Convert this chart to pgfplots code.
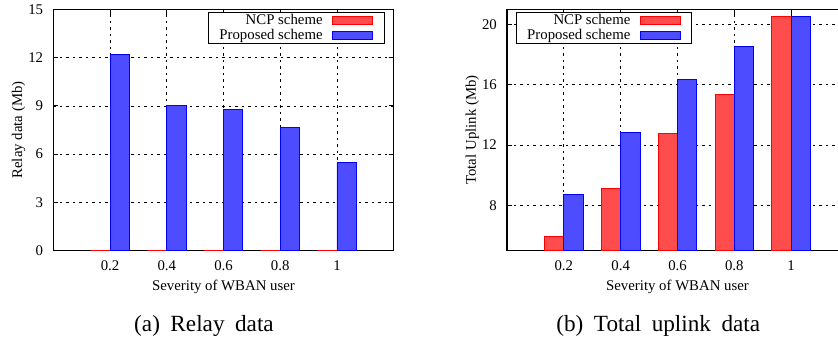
\documentclass[border=0pt]{standalone}
\usepackage{pgfplots}
\pgfplotsset{compat=1.18}
\usepackage{fontspec}
\setmainfont{Liberation Serif}
\definecolor{ncpfill}{RGB}{255,77,77}
\definecolor{ncpdraw}{RGB}{255,0,0}
\definecolor{propfill}{RGB}{77,77,255}
\definecolor{propdraw}{RGB}{0,0,255}

\pgfplotsset{
 mystyle/.style={
  scale only axis, height=241.4pt,
  xmin=0, xmax=1.2,
  xtick={0.2,0.4,0.6,0.8,1}, xticklabels={0.2,0.4,0.6,0.8,1},
  ybar, bar width=19.3pt,
  grid=major, major grid style={black, line width=0.7pt, dash pattern=on 2.5pt off 4pt},
  axis line style={black, line width=1.2pt},
  tick align=inside, major tick length=5pt, tick style={black, line width=0.8pt},
  /pgf/number format/assume math mode=true,
  every tick label/.append style={font=\fontsize{14.8}{16}\selectfont, inner sep=0pt},
  xticklabel style={anchor=base, yshift=-20pt},
  yticklabel style={anchor=east, xshift=-10pt},
  label style={font=\fontsize{14.8}{16}\selectfont},
  xlabel={Severity of WBAN user},
  xlabel style={at={(axis description cs:0.5,-0.1657)}, anchor=base},
  ylabel style={at={(axis description cs:-0.102,0.5)}, anchor=center},
  legend style={draw=black, line width=0.8pt, font=\fontsize{14.8}{15}\selectfont,
    inner xsep=10.8pt, inner ysep=0.5pt, row sep=0pt, column sep=9.7pt,
    nodes={inner sep=0pt, text height=11pt, text depth=4pt}},
  legend cell align=right,
  legend plot pos=right,
 },
 ncp/.style={fill=ncpfill, draw=ncpdraw, line width=0.8pt, bar shift=-9.65pt,
   legend image code/.code={\draw[fill=ncpfill, draw=ncpdraw, line width=0.8pt] (0pt,-4pt) rectangle (40pt,4pt);}},
 prop/.style={fill=propfill, draw=propdraw, line width=0.8pt, bar shift=9.65pt,
   legend image code/.code={\draw[fill=propfill, draw=propdraw, line width=0.8pt] (0pt,-4pt) rectangle (40pt,4pt);}},
}

\begin{document}
\begin{tikzpicture}
\useasboundingbox (0pt,0pt) rectangle (838pt,343pt);
\clip (0pt,0pt) rectangle (838pt,343pt);
\begin{axis}[mystyle, width=340.4pt,
  at={(53.3pt,92.3pt)}, anchor=south west,
  ymin=0, ymax=15, ytick={0,3,6,9,12,15},
  ylabel={Relay data (Mb)},
  legend style={at={(axis description cs:1,1)}, anchor=north east, xshift=-9.4pt, yshift=-3pt},
]
\addplot[ncp] coordinates {(0.2,0) (0.4,0) (0.6,0) (0.8,0) (1,0)};
\addlegendentry{NCP scheme}
\addplot[prop] coordinates {(0.2,12.2) (0.4,9.0) (0.6,8.76) (0.8,7.64) (1,5.47)};
\addlegendentry{Proposed scheme}
\end{axis}
\begin{axis}[mystyle, width=341pt,
  at={(507pt,92.3pt)}, anchor=south west,
  ymin=5, ymax=21, ytick={8,12,16,20},
  ylabel={Total Uplink (Mb)},
  legend style={at={(axis description cs:0,1)}, anchor=north west, xshift=9pt, yshift=-3pt},
]
\addplot[ncp] coordinates {(0.2,5.93) (0.4,9.15) (0.6,12.78) (0.8,15.36) (1,20.51)};
\addlegendentry{NCP scheme}
\addplot[prop] coordinates {(0.2,8.71) (0.4,12.82) (0.6,16.35) (0.8,18.55) (1,20.53)};
\addlegendentry{Proposed scheme}
\end{axis}
\node[anchor=base, font=\fontsize{23.2}{28}\selectfont, inner sep=0pt] at (204pt,11.3pt) {(a)\hspace{10.5pt}Relay\hspace{10.5pt}data};
\node[anchor=base, font=\fontsize{23.2}{28}\selectfont, inner sep=0pt] at (658.3pt,11.3pt) {(b)\hspace{10.5pt}Total\hspace{10.5pt}uplink\hspace{10.5pt}data};
\end{tikzpicture}
\end{document}
